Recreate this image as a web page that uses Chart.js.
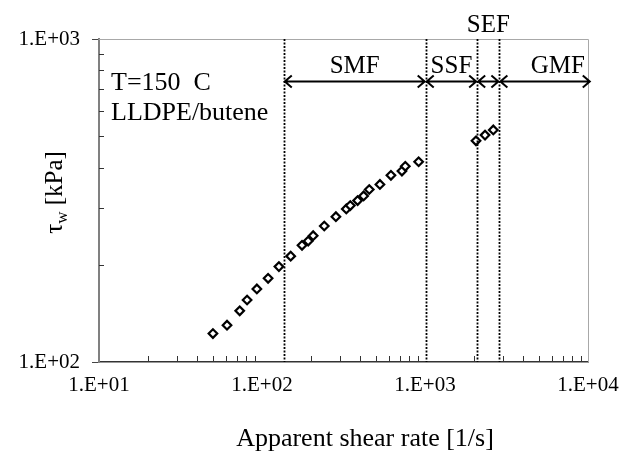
<!DOCTYPE html>
<html>
<head>
<meta charset="utf-8">
<script src="https://cdn.jsdelivr.net/npm/chart.js@4.4.1/dist/chart.umd.min.js"></script>
<style>
  html, body { margin: 0; padding: 0; background: #fff; }
  #wrap { width: 624px; height: 455px; }
</style>
</head>
<body>
<div id="wrap"><canvas id="c" width="624" height="455"></canvas></div>
<script>
// ---- data ----
const smfShearRate = [50, 61, 73, 81, 93, 109, 127, 150, 176, 192, 206, 241, 284, 329, 348, 386, 420, 455, 529, 618, 722, 757, 914];
const smfStress    = [122.5, 130, 144, 155.6, 168.3, 181.6, 197.4, 212.7, 229.8, 236.8, 246, 263.7, 281.8, 297.7, 305, 316, 326.6, 342, 354.6, 378.5, 390, 403.5, 416.8];
const sefShearRate = [2056, 2335, 2624];
const sefStress    = [484, 504, 523];

const xDecades = [10, 100, 1000, 10000];
const yDecades = [100, 1000];

const regionNames = ['SMF', 'SSF', 'SEF', 'GMF'];
const regionStart = [136, 1010, 2090, 2860];
const regionEnd   = [1010, 2090, 2860, 10400];
const boundaries  = [136, 1010, 2090, 2860];

const infoLines = ['T=150  C', 'LLDPE/butene'];
const xTitle = 'Apparent shear rate [1/s]';

const FONT = "'Liberation Serif', 'Times New Roman', serif";

function fmtE(v) {
  const e = Math.round(Math.log10(v));
  return '1.E+' + (e < 10 ? '0' + e : e);
}
function minorValues(decades) {
  const out = [];
  for (let i = 0; i < decades.length - 1; i++) {
    for (let m = 2; m <= 9; m++) out.push(decades[i] * m);
  }
  return out;
}

const annotationPlugin = {
  id: 'annot',
  afterDatasetsDraw(chart) {
    const {ctx, chartArea: a, scales: {x, y}} = chart;
    ctx.save();
    // frame top/right
    ctx.strokeStyle = '#a8a8a8';
    ctx.lineWidth = 1;
    ctx.beginPath();
    ctx.moveTo(a.left, a.top + 0.5);
    ctx.lineTo(a.right + 0.5, a.top + 0.5);
    ctx.lineTo(a.right + 0.5, a.bottom);
    ctx.stroke();

    // inward minor ticks
    ctx.strokeStyle = '#333';
    ctx.lineWidth = 1;
    ctx.beginPath();
    minorValues(xDecades).forEach(v => {
      const px = Math.round(x.getPixelForValue(v)) + 0.5;
      ctx.moveTo(px, a.bottom);
      ctx.lineTo(px, a.bottom - 6);
    });
    minorValues(yDecades).forEach(v => {
      const py = Math.round(y.getPixelForValue(v)) + 0.5;
      ctx.moveTo(a.left, py);
      ctx.lineTo(a.left + 5, py);
    });
    ctx.stroke();

    // dotted boundaries
    ctx.strokeStyle = '#000';
    ctx.lineWidth = 1.8;
    ctx.setLineDash([2, 1.5]);
    ctx.beginPath();
    boundaries.forEach(v => {
      const px = Math.round(x.getPixelForValue(v)) + 0.5;
      ctx.moveTo(px, a.top);
      ctx.lineTo(px, a.bottom);
    });
    ctx.stroke();
    ctx.setLineDash([]);

    // region arrows and labels
    const ay = a.top + 42.5;
    ctx.strokeStyle = '#000';
    ctx.fillStyle = '#000';
    ctx.lineWidth = 2;
    ctx.font = '25px ' + FONT;
    ctx.textBaseline = 'alphabetic';
    regionNames.forEach((name, i) => {
      const x1 = x.getPixelForValue(regionStart[i]);
      const x2 = x.getPixelForValue(regionEnd[i]);
      ctx.beginPath();
      ctx.moveTo(x1 + 1, ay);
      ctx.lineTo(x2 - 1, ay);
      ctx.moveTo(x1 + 8, ay - 6);
      ctx.lineTo(x1 + 1, ay);
      ctx.lineTo(x1 + 8, ay + 6);
      ctx.moveTo(x2 - 8, ay - 6);
      ctx.lineTo(x2 - 1, ay);
      ctx.lineTo(x2 - 8, ay + 6);
      ctx.stroke();
      if (i === regionNames.length - 1) {
        ctx.textAlign = 'right';
        ctx.fillText(name, a.right - 3, a.top + 34);
      } else if (name === 'SEF') {
        ctx.textAlign = 'center';
        ctx.fillText(name, (x1 + x2) / 2, a.top - 7);
      } else {
        ctx.textAlign = 'center';
        ctx.fillText(name, (x1 + x2) / 2, a.top + 34);
      }
    });

    // info text
    ctx.textAlign = 'left';
    ctx.font = '26px ' + FONT;
    infoLines.forEach((t, i) => ctx.fillText(t, a.left + 12, a.top + 51 + i * 30));

    // x title
    ctx.textAlign = 'center';
    ctx.font = '26px ' + FONT;
    ctx.fillText(xTitle, 365, 446);

    // y title with subscript
    ctx.translate(54, a.top + 153.5);
    ctx.rotate(-Math.PI / 2);
    const big = '25px ' + FONT, small = '17px ' + FONT;
    ctx.font = big; const wTau = ctx.measureText('\u03C4').width;
    ctx.font = small; const wW = ctx.measureText('w').width;
    ctx.font = big; const wRest = ctx.measureText(' [kPa]').width;
    let sx = -(wTau + wW + wRest) / 2;
    ctx.textAlign = 'left';
    ctx.font = big; ctx.fillText('\u03C4', sx, 8); sx += wTau;
    ctx.font = small; ctx.fillText('w', sx, 13); sx += wW;
    ctx.font = big; ctx.fillText(' [kPa]', sx, 8);
    ctx.restore();
  }
};

const pointStyle = {
  pointStyle: 'rectRot',
  pointRadius: 4.3,
  pointBorderWidth: 2.2,
  pointBorderColor: '#000',
  pointBackgroundColor: '#fff',
  showLine: false
};

new Chart(document.getElementById('c'), {
  type: 'scatter',
  data: {
    datasets: [
      Object.assign({ label: 'SMF', data: smfShearRate.map((v, i) => ({x: v, y: smfStress[i]})) }, pointStyle),
      Object.assign({ label: 'SEF', data: sefShearRate.map((v, i) => ({x: v, y: sefStress[i]})) }, pointStyle)
    ]
  },
  options: {
    responsive: false,
    animation: false,
    events: [],
    layout: { autoPadding: false, padding: { top: 39, right: 36, left: 0, bottom: 0 } },
    plugins: { legend: { display: false }, tooltip: { enabled: false } },
    scales: {
      x: {
        type: 'logarithmic',
        min: 10, max: 10000,
        afterBuildTicks: s => { s.ticks = xDecades.map(v => ({value: v})); },
        afterFit: s => { s.height = 93; s.paddingLeft = 0; s.paddingRight = 0; },
        grid: { display: false, drawTicks: false, tickLength: 0 },
        border: { display: true, color: '#333', width: 1.5 },
        ticks: {
          autoSkip: false, maxRotation: 0, padding: 11,
          color: '#000', font: { family: FONT, size: 21 },
          callback: v => fmtE(v)
        },
        title: { display: false }
      },
      y: {
        type: 'logarithmic',
        min: 100, max: 1000,
        afterBuildTicks: s => { s.ticks = yDecades.map(v => ({value: v})); },
        afterFit: s => { s.width = 99; s.paddingTop = 0; s.paddingBottom = 0; },
        grid: { display: true, drawOnChartArea: false, drawTicks: true, tickLength: 7, color: '#444', lineWidth: 1 },
        border: { display: true, color: '#808080', width: 2 },
        ticks: {
          autoSkip: false, padding: 12,
          color: '#000', font: { family: FONT, size: 21 },
          callback: v => fmtE(v)
        }
      }
    }
  },
  plugins: [annotationPlugin]
});
</script>
</body>
</html>
